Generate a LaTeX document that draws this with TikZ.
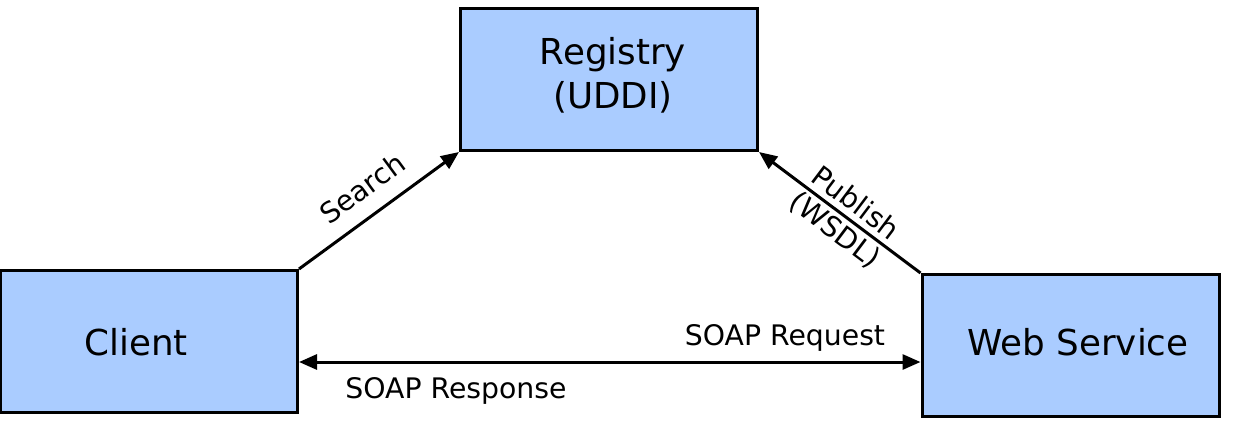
\documentclass[tikz,border=0pt]{standalone}
\usepackage{fontspec}
\setmainfont{DejaVu Sans}
\usetikzlibrary{arrows.meta}
\definecolor{boxblue}{RGB}{170,204,255}
\tikzset{
  box/.style={draw=black, fill=boxblue, line width=3pt, minimum width=297pt, minimum height=142pt, inner sep=0pt},
  boxtext/.style={font=\fontsize{35.7}{44}\selectfont, align=center},
  lbl/.style={font=\fontsize{28.3}{34}\selectfont, inner sep=0pt},
  tip/.style={Triangle[length=18pt,width=15pt]},
  conn/.style={line width=3pt, -{Triangle[length=18pt,width=15pt]}},
}
\begin{document}
\begin{tikzpicture}[x=1pt,y=-1pt]
\useasboundingbox (0,0) rectangle (1233,426);
\node[box] (reg) at (609,79.5) {};
\node[box] (client) at (149,341.5) {};
\node[box] (ws) at (1070.5,345.5) {};
\node[boxtext] (regt) at (613,75) {Registry\\(UDDI)};
\node[boxtext] (clientt) at (136,342) {Client};
\node[boxtext] (wst) at (1078,342) {Web Service};
\draw[conn] (client.north east) -- (reg.south west);
\draw[conn] (ws.north west) -- (reg.south east);
\draw[line width=3pt, {Triangle[length=18pt,width=15pt]}-{Triangle[length=18pt,width=15pt]}] ([yshift=-20.5pt]client.east) -- ([yshift=-16.5pt]ws.west);
\node[lbl, rotate=36.3] (search) at (362,188) {Search};
\node[lbl, rotate=-37, align=center] (pub) at (845,217) {Publish\\(WSDL)};
\node[lbl] (req) at (785,338) {SOAP Request};
\node[lbl] (resp) at (456,391) {SOAP Response};
\end{tikzpicture}
\end{document}
